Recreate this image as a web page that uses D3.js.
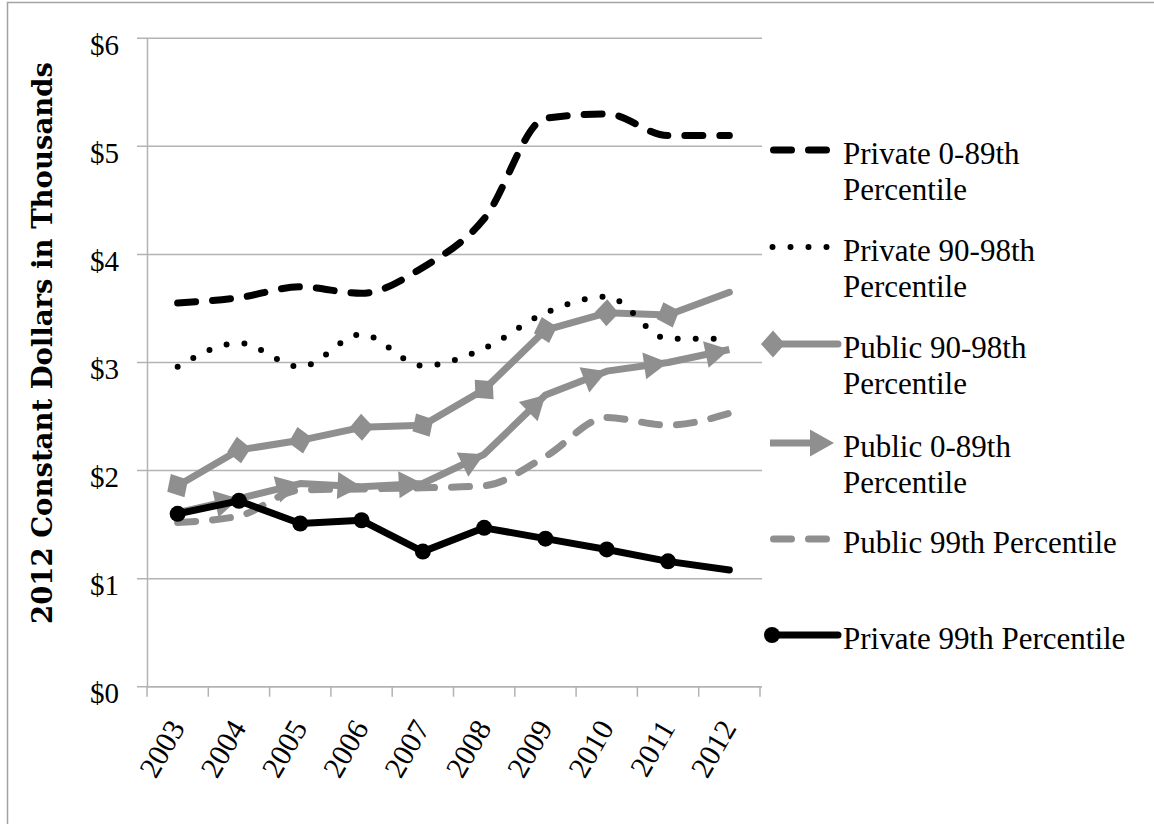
<!DOCTYPE html>
<html>
<head>
<meta charset="utf-8">
<script src="https://cdn.jsdelivr.net/npm/d3@7"></script>
<style>
  html, body { margin: 0; padding: 0; background: #fff; }
</style>
</head>
<body>
<div id="chart"></div>
<script>
// Data (thousands of 2012 dollars)
var years = ["2003", "2004", "2005", "2006", "2007", "2008", "2009", "2010", "2011", "2012"];
var yTicks = [0, 1, 2, 3, 4, 5, 6];

var private0to89  = [3.55, 3.60, 3.70, 3.64, 3.88, 4.33, 5.26, 5.30, 5.10, 5.10];
var private90to98 = [2.96, 3.18, 2.96, 3.26, 2.97, 3.13, 3.46, 3.61, 3.22, 3.22];
var public90to98  = [1.86, 2.19, 2.28, 2.40, 2.42, 2.75, 3.30, 3.46, 3.44, 3.65];
var public0to89   = [1.61, 1.74, 1.88, 1.85, 1.88, 2.15, 2.70, 2.92, 3.00, 3.12];
var public99      = [1.52, 1.58, 1.82, 1.83, 1.84, 1.86, 2.13, 2.49, 2.42, 2.53];
var private99     = [1.60, 1.72, 1.51, 1.54, 1.25, 1.47, 1.37, 1.27, 1.16, 1.08];

var seriesNames = [
  ["Private 0-89th", "Percentile"],
  ["Private 90-98th", "Percentile"],
  ["Public 90-98th", "Percentile"],
  ["Public 0-89th", "Percentile"],
  ["Public 99th Percentile"],
  ["Private 99th Percentile"]
];

function linechart(id, W, H) {

  var font_family = "'Liberation Serif', 'Times New Roman', serif",
      black = "#000",
      grey = "#8f8f8f",
      gridColor = "#b3b3b3";

  // Size
  var margin = {top: 38.3, left: 147, right: 394, bottom: 137.3},
      width = W - margin.left - margin.right,
      height = H - margin.top - margin.bottom;

  var xScale = d3.scaleBand()
        .domain(years)
        .range([0, width])
        .padding(0),
      yScale = d3.scaleLinear()
        .domain([0, 6])
        .range([height, 0]);

  var cx = function(d, i) { return xScale(years[i]) + xScale.bandwidth() / 2; },
      cy = function(d) { return yScale(d); };

  // z: drawing order (higher on top)
  var series = [
    {values: private0to89,  color: black, w: 7, dash: "18,17", curve: true,  marker: null,      z: 4},
    {values: private90to98, color: black, w: 6, dash: "0,18",  curve: true,  marker: null,      z: 3},
    {values: public90to98,  color: grey,  w: 7, dash: null,    curve: false, marker: "diamond", z: 2},
    {values: public0to89,   color: grey,  w: 7, dash: null,    curve: false, marker: "arrow",   z: 1},
    {values: public99,      color: grey,  w: 7, dash: "18,17", curve: true,  marker: null,      z: 0},
    {values: private99,     color: black, w: 7, dash: null,    curve: false, marker: "circle",  z: 5}
  ];
  var legendY = [150, 247, 344, 443, 539, 635];

  var svgRoot = d3.select("#" + id).append("svg")
    .attr("width", W)
    .attr("height", H);

  // outer frame (runs off the right and bottom edges)
  svgRoot.append("rect")
    .attr("x", 7.5).attr("y", 2.5)
    .attr("width", W + 20).attr("height", H + 20)
    .attr("fill", "none")
    .attr("stroke", "#a3a3a3")
    .attr("stroke-width", 1.5);

  var svg = svgRoot.append("g")
    .attr("transform", "translate(" + margin.left + "," + margin.top + ")");

  // gridlines
  svg.append("g")
    .selectAll("line")
    .data(yTicks)
    .enter().append("line")
      .attr("x1", -10)
      .attr("x2", width + 2)
      .attr("y1", function(d) { return yScale(d); })
      .attr("y2", function(d) { return yScale(d); })
      .attr("stroke", gridColor)
      .attr("stroke-width", 1.5);

  // y axis
  var yAxis = svg.append("g")
    .call(d3.axisLeft(yScale).tickValues(yTicks).tickSize(0).tickPadding(28)
      .tickFormat(function(d) { return "$" + d; }));
  yAxis.select(".domain").attr("stroke", gridColor).attr("stroke-width", 1.5);
  yAxis.selectAll("text")
    .attr("font-family", font_family)
    .attr("font-size", 29)
    .attr("fill", "#000")
    .attr("dy", "0.55em");

  // x axis: baseline + ticks at band edges
  var xg = svg.append("g").attr("transform", "translate(0," + height + ")");
  xg.append("line")
    .attr("x1", 0).attr("x2", width + 2)
    .attr("stroke", gridColor).attr("stroke-width", 1.5);
  xg.selectAll(".xtick")
    .data(years.concat(["end"]))
    .enter().append("line")
      .attr("class", "xtick")
      .attr("x1", function(d) { return d == "end" ? width : xScale(d); })
      .attr("x2", function(d) { return d == "end" ? width : xScale(d); })
      .attr("y1", 0).attr("y2", 10)
      .attr("stroke", gridColor).attr("stroke-width", 1.5);
  xg.selectAll(".xlabel")
    .data(years)
    .enter().append("text")
      .attr("class", "xlabel")
      .attr("font-family", font_family)
      .attr("font-size", 30)
      .attr("text-anchor", "end")
      .attr("transform", function(d) {
        var px = xScale(d) + xScale.bandwidth() / 2 + 8;
        return "translate(" + px + ",41) rotate(-60)";
      })
      .text(function(d) { return d; });

  // y axis title
  svgRoot.append("text")
    .attr("transform", "translate(52," + 343 + ") rotate(-90)")
    .attr("text-anchor", "middle")
    .attr("font-family", "'DejaVu Serif', serif")
    .attr("font-weight", "bold")
    .attr("font-size", 27.5)
    .text("2012 Constant Dollars in Thousands");

  // lines
  var smooth = d3.line().x(cx).y(cy).curve(d3.curveMonotoneX),
      straight = d3.line().x(cx).y(cy);

  function angle(v, i) {
    return Math.atan2(cy(v[i + 1]) - cy(v[i]), cx(v[i + 1], i + 1) - cx(v[i], i)) * 180 / Math.PI;
  }

  function drawMarker(g, type, x, y, rot, color) {
    if (type == "diamond") {
      g.append("path")
        .attr("d", "M-12,0L0,-13.5L12,0L0,13.5Z")
        .attr("fill", color)
        .attr("transform", "translate(" + x + "," + y + ") rotate(" + rot + ")");
    } else if (type == "arrow") {
      g.append("path")
        .attr("d", "M0,0L-24,-13.5L-24,13.5Z")
        .attr("fill", color)
        .attr("transform", "translate(" + x + "," + y + ") rotate(" + rot + ")");
    } else if (type == "circle") {
      g.append("circle")
        .attr("cx", x).attr("cy", y).attr("r", 8)
        .attr("fill", color);
    }
  }

  var plot = svg.append("g");
  series.slice().sort(function(a, b) { return a.z - b.z; }).forEach(function(s) {
    var g = plot.append("g");
    g.append("path")
      .datum(s.values)
      .attr("d", s.curve ? smooth : straight)
      .attr("fill", "none")
      .attr("stroke", s.color)
      .attr("stroke-width", s.w)
      .attr("stroke-linecap", s.marker == "arrow" ? "butt" : "round")
      .attr("stroke-linejoin", "round")
      .attr("stroke-dasharray", s.dash);
    if (s.marker) {
      for (var i = 0; i < s.values.length - 1; i++) {
        var rot = angle(s.values, i);
        if (s.marker == "arrow") {
          drawMarker(g, "arrow", cx(s.values[i + 1], i + 1), cy(s.values[i + 1]), rot, s.color);
        } else {
          drawMarker(g, s.marker, cx(s.values[i], i), cy(s.values[i]), rot, s.color);
        }
      }
    }
  });

  // legend
  var legend = svgRoot.append("g");
  series.forEach(function(s, k) {
    var y = legendY[k],
        g = legend.append("g");
    var x1 = 773, x2 = 838;
    if (s.dash == "18,17") { x1 = 773.5; x2 = 834; }
    if (s.dash == "0,18") { x1 = 772.5; x2 = 828; }
    if (s.marker == "arrow") { x1 = 770; x2 = 815; }
    g.append("line")
      .attr("x1", x1).attr("x2", x2)
      .attr("y1", y).attr("y2", y)
      .attr("stroke", s.color)
      .attr("stroke-width", s.w)
      .attr("stroke-linecap", s.marker == "arrow" ? "butt" : "round")
      .attr("stroke-dasharray", s.dash);
    if (s.marker == "diamond") drawMarker(g, "diamond", 773, y, 0, s.color);
    if (s.marker == "arrow") drawMarker(g, "arrow", 834, y, 0, s.color);
    if (s.marker == "circle") drawMarker(g, "circle", 772, y, 0, s.color);

    var t = g.append("text")
      .attr("font-family", font_family)
      .attr("font-size", 31)
      .attr("x", 843)
      .attr("y", y + 14);
    seriesNames[k].forEach(function(line, j) {
      t.append("tspan")
        .attr("x", 843)
        .attr("dy", j == 0 ? 0 : 36)
        .text(line);
    });
  });
}

linechart("chart", 1154, 824);
</script>
</body>
</html>
